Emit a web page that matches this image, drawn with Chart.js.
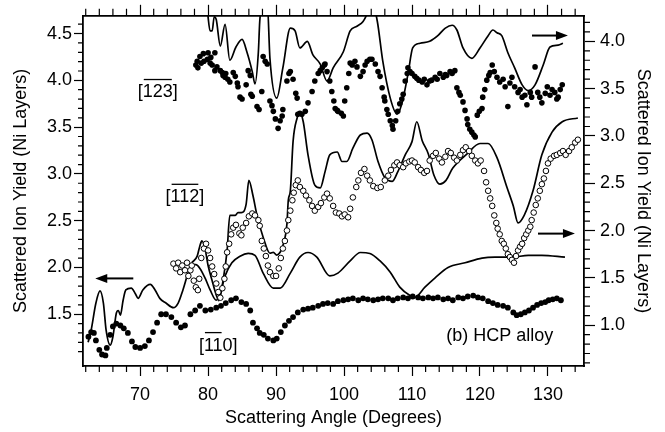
<!DOCTYPE html>
<html>
<head>
<meta charset="utf-8">
<script src="https://cdn.jsdelivr.net/npm/chart.js@4.4.1/dist/chart.umd.min.js"></script>
<style>
  html, body { margin: 0; padding: 0; background: #fff; }
</style>
</head>
<body>
<canvas id="chart" width="665" height="432"></canvas>
<script>
// ---- values ----
// [-1-10] simulation (left axis)
const ang110Sim = [62.35,62.8,63.5,64.1,64.6,65.0,65.6,66.0,66.5,66.8,67.1,67.5,67.9,68.7,69.3,69.7,70.4,71.5,72.2,72.9,73.8,74.9,75.6,76.3,77.1,77.6,78.2,78.8,79.6,80.3,81.2,81.8,82.5,83.5,84.7,85.9,86.9,88.1,89.6,90.6,92.1,93.5,94.7,96.0,97.9,99.1,100.9,102.4,103.8,105.3,106.8,108.2,109.7,110.4,111.9,113.4,115.3,117.8,120.3,122.2,124.7,127.1,129.1,132.5];
const val110Sim = [1.20,1.33,1.62,1.75,1.62,1.33,1.17,1.26,1.51,1.54,1.49,1.65,1.76,1.78,1.72,1.67,1.76,1.82,1.76,1.67,1.62,1.57,1.62,1.76,1.95,2.03,2.03,1.99,1.88,1.76,1.65,1.73,1.91,2.05,2.12,2.15,2.13,1.94,1.78,1.78,1.94,2.11,2.16,2.11,1.91,1.94,2.07,2.16,2.15,2.07,1.95,1.79,1.70,1.68,1.79,1.89,2.00,2.05,2.10,2.11,2.11,2.13,2.13,2.11];

// [-1-12] simulation (right axis)
const ang112Sim = [77.6,78.4,78.8,79.1,79.6,80.0,80.6,81.2,81.6,82.2,82.8,83.2,84.0,84.4,84.9,85.6,86.0,86.6,87.2,88.1,89.1,89.6,90.1,90.6,91.0,91.6,91.8,92.1,92.5,93.1,93.5,94.0,94.7,95.7,96.5,97.2,97.9,99.0,99.7,100.4,101.3,102.4,103.4,104.1,105.0,106.0,107.1,107.9,109.0,110.0,110.7,111.5,112.4,113.2,114.1,115.0,116.0,118.1,120.0,121.2,122.5,124.0,124.9,125.6,126.5,127.8,129.1,130.6,132.1,134.4];
const val112Sim = [1.66,1.73,1.84,1.89,1.79,1.63,1.47,1.32,1.26,1.47,1.79,2.16,2.16,2.19,2.19,2.28,2.53,2.37,2.16,1.93,1.76,1.77,1.74,1.77,1.84,2.07,2.32,2.42,2.94,3.19,3.25,3.15,2.80,2.48,2.45,2.62,2.80,2.83,2.73,2.73,2.87,3.01,3.03,2.96,2.73,2.56,2.52,2.62,2.80,2.94,3.15,2.95,2.81,2.59,2.49,2.53,2.66,2.81,2.92,2.92,2.77,2.45,2.26,2.08,2.16,2.42,2.80,3.04,3.15,3.19];

// [-1-23] simulation (right axis)
const ang123Sim = [79.9,80.3,80.6,80.9,81.2,81.8,82.5,83.2,84.1,85.0,85.7,86.5,86.9,87.4,87.6,88.1,88.7,89.1,90.1,91.0,92.1,92.8,93.5,94.6,95.4,96.5,97.5,98.4,99.9,100.9,101.9,102.8,103.4,104.1,104.9,105.7,106.8,107.8,108.5,109.4,110.1,111.2,112.6,113.8,114.9,115.9,116.6,117.5,118.8,120.0,121.2,121.9,122.5,123.2,124.1,125.1,126.2,127.1,128.1,129.3,130.3,131.5,132.2];
const val123Sim = [4.32,4.11,4.11,4.26,4.23,3.95,4.18,3.80,3.94,4.02,3.89,3.68,3.55,3.89,4.21,4.42,4.42,3.82,3.40,3.72,4.14,4.11,3.93,4.00,3.86,3.76,3.58,3.72,3.89,4.11,4.16,4.21,4.29,4.42,4.21,3.79,3.40,3.23,3.34,3.65,3.93,3.98,4.00,4.06,4.14,4.17,4.12,3.93,3.82,3.93,4.06,4.12,4.09,4.06,3.88,3.72,3.54,3.48,3.54,3.75,3.94,3.96,3.98];

// measured points
const ang110Exp = [62.4,62.8,63.2,63.5,64.0,64.4,64.9,65.1,65.6,66.0,66.5,67.1,67.6,68.2,68.8,69.3,70.0,70.7,71.3,71.9,72.5,73.1,73.8,74.6,75.3,76.0,76.6,77.4,78.1,78.8,79.6,80.4,81.2,81.9,82.6,83.4,84.1,84.9,85.6,86.2,86.6,87.2,87.6,88.2,88.8,89.6,90.1,90.7,91.3,91.9,92.5,93.2,94.0,94.7,95.4,96.2,96.9,97.6,98.4,99.1,99.9,100.6,101.3,102.1,102.8,103.5,104.3,105.0,105.7,106.5,107.2,107.9,108.7,109.4,110.1,110.9,111.6,112.4,113.1,113.8,114.6,115.3,116.0,116.8,117.5,118.2,119.0,119.7,120.4,121.2,121.9,122.6,123.4,124.1,124.9,125.4,126.0,126.6,127.2,127.8,128.4,129.0,129.6,130.1,130.7,131.3,131.9];
const val110Exp = [1.26,1.31,1.30,1.22,1.12,1.07,1.06,1.14,1.28,1.37,1.40,1.38,1.35,1.30,1.21,1.15,1.14,1.16,1.22,1.31,1.41,1.50,1.50,1.47,1.41,1.36,1.38,1.50,1.54,1.59,1.54,1.55,1.57,1.59,1.62,1.65,1.67,1.63,1.61,1.54,1.41,1.35,1.30,1.28,1.24,1.22,1.24,1.31,1.38,1.43,1.47,1.52,1.55,1.56,1.57,1.59,1.61,1.62,1.61,1.64,1.65,1.66,1.67,1.65,1.67,1.66,1.65,1.66,1.67,1.67,1.65,1.67,1.68,1.67,1.69,1.68,1.67,1.68,1.67,1.68,1.66,1.67,1.65,1.68,1.67,1.69,1.70,1.68,1.67,1.64,1.62,1.60,1.59,1.57,1.52,1.49,1.50,1.52,1.54,1.57,1.60,1.62,1.63,1.65,1.66,1.67,1.65];

const ang112Exp = [74.9,75.3,75.6,75.9,76.2,76.6,76.9,77.1,77.4,77.6,77.9,78.2,78.5,78.7,79.0,79.4,79.7,80.0,80.3,80.6,80.9,81.2,81.5,81.8,82.1,82.4,82.6,82.8,83.1,83.4,83.7,84.1,84.6,84.9,85.1,85.6,86.0,86.5,86.9,87.4,87.6,87.9,88.2,88.5,88.8,89.1,89.6,90.0,90.4,90.7,91.0,91.3,91.6,91.8,92.1,92.4,92.6,92.9,93.2,93.5,94.0,94.4,94.9,95.3,95.7,96.2,96.6,97.1,97.5,97.9,98.4,98.8,99.3,99.7,100.1,100.6,100.9,101.3,101.8,102.1,102.5,103.0,103.4,103.8,104.3,104.9,105.4,106.0,106.5,106.9,107.4,107.8,108.2,108.7,109.1,109.6,110.0,110.4,110.9,111.3,111.8,112.2,112.6,113.1,113.5,114.0,114.4,114.9,115.3,115.7,116.2,116.6,117.1,117.5,117.9,118.4,118.8,119.3,119.7,120.1,120.6,120.9,121.2,121.5,121.8,122.1,122.4,122.6,122.9,123.2,123.5,123.8,124.1,124.4,124.7,125.0,125.3,125.6,125.9,126.2,126.5,126.8,127.1,127.4,127.6,127.9,128.2,128.5,128.8,129.1,129.4,129.7,130.0,130.4,130.9,131.3,131.8,132.2,132.6,133.1,133.5,134.0,134.4];
const val112Exp = [1.65,1.60,1.66,1.56,1.63,1.58,1.66,1.52,1.58,1.63,1.47,1.40,1.37,1.49,1.71,1.81,1.86,1.79,1.71,1.62,1.54,1.44,1.35,1.29,1.39,1.49,1.62,1.77,1.86,1.96,2.03,2.06,1.97,1.95,2.03,2.08,2.15,2.18,2.16,2.11,2.05,1.89,1.81,1.73,1.63,1.56,1.52,1.52,1.60,1.71,1.81,1.89,2.00,2.11,2.21,2.32,2.40,2.48,2.53,2.46,2.42,2.37,2.32,2.26,2.21,2.25,2.29,2.35,2.39,2.34,2.26,2.19,2.18,2.15,2.17,2.14,2.23,2.35,2.46,2.53,2.61,2.65,2.58,2.53,2.47,2.45,2.46,2.53,2.58,2.64,2.69,2.72,2.69,2.67,2.71,2.73,2.74,2.72,2.67,2.64,2.61,2.63,2.74,2.79,2.82,2.76,2.72,2.78,2.84,2.82,2.77,2.74,2.80,2.85,2.88,2.84,2.79,2.74,2.71,2.74,2.63,2.51,2.42,2.34,2.26,2.16,2.08,2.02,1.96,1.89,1.86,1.81,1.75,1.72,1.69,1.66,1.73,1.79,1.83,1.86,1.92,1.96,2.00,2.04,2.11,2.19,2.27,2.34,2.42,2.49,2.55,2.63,2.71,2.76,2.79,2.80,2.82,2.84,2.80,2.84,2.88,2.93,2.96];

const ang123Exp = [78.2,78.4,78.5,78.8,79.0,79.3,79.4,79.9,80.0,80.3,80.4,80.6,81.0,81.0,81.3,81.8,82.1,82.2,82.5,82.6,82.9,83.2,83.7,84.0,84.3,84.4,84.7,85.0,85.6,85.9,86.2,86.3,86.5,87.2,87.5,87.9,88.1,88.4,88.7,89.1,89.4,89.6,89.9,90.3,90.6,90.9,91.0,91.6,91.9,92.1,92.5,92.9,93.1,93.2,93.5,93.8,94.3,94.7,95.3,95.7,96.2,96.5,96.8,97.1,97.2,97.5,97.9,98.2,98.5,98.7,99.0,99.1,99.6,99.9,100.1,100.4,100.7,100.9,101.2,101.6,101.9,102.4,102.8,103.1,103.4,103.8,104.1,104.6,105.0,105.3,105.6,105.9,106.0,106.3,106.5,106.8,107.1,107.2,107.6,107.9,108.2,108.5,108.7,109.0,109.3,109.4,109.7,110.0,110.4,110.7,111.0,111.5,111.8,112.2,112.6,112.9,113.4,113.7,114.1,114.6,114.9,115.1,115.6,115.9,116.3,116.6,116.9,117.1,117.5,117.8,118.1,118.2,118.5,118.8,119.1,119.3,119.6,119.9,120.3,120.4,120.7,121.0,121.3,121.5,121.8,122.1,122.5,122.9,123.4,123.7,124.1,124.4,124.7,125.1,125.6,125.9,126.2,126.6,126.9,127.4,127.6,128.1,128.5,128.8,129.1,129.6,129.9,130.3,130.6,131.0,131.3,131.5,131.8,132.1];
const val123Exp = [3.75,3.79,3.72,3.84,3.77,3.87,3.79,3.81,3.88,3.77,3.83,3.75,3.88,3.69,3.73,3.69,3.67,3.64,3.62,3.66,3.60,3.57,3.67,3.63,3.56,3.52,3.41,3.39,3.54,3.69,3.64,3.44,3.42,3.31,3.28,3.47,3.84,3.79,3.76,3.37,3.32,3.26,3.18,3.08,3.16,3.21,3.28,3.58,3.66,3.68,3.60,3.45,3.40,3.23,3.24,3.23,3.26,3.35,3.47,3.58,3.66,3.69,3.72,3.75,3.76,3.68,3.58,3.47,3.37,3.29,3.27,3.26,3.24,3.21,3.37,3.51,3.66,3.77,3.75,3.79,3.73,3.63,3.68,3.75,3.79,3.81,3.81,3.76,3.68,3.63,3.51,3.41,3.37,3.28,3.23,3.16,3.11,3.07,3.16,3.26,3.34,3.39,3.44,3.58,3.66,3.72,3.68,3.66,3.63,3.61,3.59,3.57,3.60,3.54,3.58,3.59,3.62,3.60,3.66,3.62,3.65,3.64,3.68,3.66,3.69,3.51,3.46,3.43,3.36,3.27,3.18,3.12,3.07,3.04,3.01,2.99,3.22,3.26,3.29,3.41,3.49,3.59,3.64,3.67,3.75,3.68,3.62,3.57,3.60,3.52,3.31,3.56,3.62,3.52,3.46,3.49,3.41,3.43,3.33,3.46,3.41,3.73,3.46,3.41,3.35,3.45,3.52,3.43,3.49,3.46,3.39,3.41,3.49,3.54];

// axis ranges (degrees, left axis, right axis)
const angRange = [61.6, 135.3];
const leftRange = [0.947, 4.69];
const rightRange = [0.568, 4.27];
const leftLowest = 1.05; // left axis shows no tick below 1.1

// text labels placed in data units (angle, left-axis value)
const labels = [
  { text: '[123]', bar: '123', x: 72.6, y: 3.87 },
  { text: '[112]', bar: '112', x: 76.6, y: 2.75 },
  { text: '[110]', bar: '11', x: 81.5, y: 1.165 },
  { text: '(b) HCP alloy', bar: '', x: 122.9, y: 1.266 }
];
// arrows: from tail to head (angle), at a left-axis value
const arrows = [
  { from: 69.0, to: 63.4, y: 1.883 },
  { from: 127.65, to: 132.94, y: 4.479 },
  { from: 128.53, to: 133.97, y: 2.362 }
];

const FONT = "'Liberation Sans', Arial, Helvetica, sans-serif";
Chart.defaults.font.family = FONT;
Chart.defaults.font.size = 18;
Chart.defaults.color = '#000';

const pts = (xs, ys) => xs.map((x, i) => ({ x, y: ys[i] }));
const isMajorX = v => Math.abs(v / 10 - Math.round(v / 10)) < 1e-6;
const isMajorY = v => Math.abs(v * 2 - Math.round(v * 2)) < 1e-6;

const lineSet = (data, axis) => ({
  data, yAxisID: axis, showLine: true, pointRadius: 0,
  borderColor: '#000', borderWidth: 1.7,
  cubicInterpolationMode: 'monotone', order: 3
});

// minor ticks, text labels and arrows
const decor = {
  id: 'decor',
  afterDraw(chart) {
    const ctx = chart.ctx;
    const { x, xTop, y, y2 } = chart.scales;
    ctx.save();
    ctx.strokeStyle = '#000';
    ctx.lineWidth = 1.2;
    ctx.beginPath();
    x.ticks.forEach(t => {
      if (isMajorX(t.value)) return;
      const px = x.getPixelForValue(t.value);
      ctx.moveTo(px, x.top); ctx.lineTo(px, x.top + 6);
      ctx.moveTo(px, xTop.bottom); ctx.lineTo(px, xTop.bottom - 7);
    });
    y.ticks.forEach(t => {
      if (isMajorY(t.value) || t.value < leftLowest) return;
      const py = y.getPixelForValue(t.value);
      ctx.moveTo(y.right, py); ctx.lineTo(y.right - 5, py);
    });
    y2.ticks.forEach(t => {
      if (isMajorY(t.value)) return;
      const py = y2.getPixelForValue(t.value);
      ctx.moveTo(y2.left, py); ctx.lineTo(y2.left + 6, py);
    });
    ctx.stroke();

    // labels
    ctx.font = '18px ' + FONT;
    ctx.fillStyle = '#000';
    ctx.textBaseline = 'middle';
    ctx.textAlign = 'left';
    labels.forEach(l => {
      const cx = x.getPixelForValue(l.x);
      const cy = y.getPixelForValue(l.y);
      const w = ctx.measureText(l.text).width;
      const x0 = cx - w / 2;
      ctx.fillText(l.text, x0, cy);
      if (l.bar) {
        const wo = ctx.measureText('[').width;
        const wb = ctx.measureText(l.bar).width;
        ctx.beginPath();
        ctx.lineWidth = 1.3;
        ctx.moveTo(x0 + wo + 1, cy - 13);
        ctx.lineTo(x0 + wo + wb - 1, cy - 13);
        ctx.stroke();
      }
    });

    // arrows
    arrows.forEach(a => {
      const x1 = x.getPixelForValue(a.from);
      const x2 = x.getPixelForValue(a.to);
      const py = y.getPixelForValue(a.y);
      const dir = Math.sign(x2 - x1);
      ctx.beginPath();
      ctx.lineWidth = 2;
      ctx.moveTo(x1, py);
      ctx.lineTo(x2 - dir * 8, py);
      ctx.stroke();
      ctx.beginPath();
      ctx.moveTo(x2, py);
      ctx.lineTo(x2 - dir * 12, py - 4.5);
      ctx.lineTo(x2 - dir * 12, py + 4.5);
      ctx.closePath();
      ctx.fill();
    });
    ctx.restore();
  }
};

const tickColX = c => (c.tick && isMajorX(c.tick.value)) ? '#000' : 'rgba(0,0,0,0)';
const tickColY = c => (c.tick && isMajorY(c.tick.value)) ? '#000' : 'rgba(0,0,0,0)';
const tickColL = c => (c.tick && isMajorY(c.tick.value) && c.tick.value > leftLowest) ? '#000' : 'rgba(0,0,0,0)';
const border = { display: true, color: '#000', width: 1.8 };

new Chart(document.getElementById('chart'), {
  type: 'scatter',
  data: {
    datasets: [
      { data: pts(ang112Exp, val112Exp), yAxisID: 'y2', pointRadius: 2.8,
        backgroundColor: '#fff', borderColor: '#000', borderWidth: 1, order: 0 },
      { data: pts(ang123Exp, val123Exp), yAxisID: 'y2', pointRadius: 2.8,
        backgroundColor: '#000', borderWidth: 0, order: 1 },
      { data: pts(ang110Exp, val110Exp), yAxisID: 'y', pointRadius: 2.9,
        backgroundColor: '#000', borderWidth: 0, order: 1 },
      lineSet(pts(ang110Sim, val110Sim), 'y'),
      lineSet(pts(ang112Sim, val112Sim), 'y2'),
      lineSet(pts(ang123Sim, val123Sim), 'y2')
    ]
  },
  options: {
    responsive: false,
    animation: false,
    events: [],
    layout: { padding: 0 },
    plugins: { legend: { display: false }, tooltip: { enabled: false } },
    scales: {
      x: {
        type: 'linear', position: 'bottom', min: angRange[0], max: angRange[1],
        afterFit: s => { s.height = 66; },
        ticks: { stepSize: 2, includeBounds: false, autoSkip: false, maxRotation: 0,
                 padding: 8, callback: v => isMajorX(v) ? String(Math.round(v)) : '' },
        grid: { drawOnChartArea: false, tickLength: 10, tickWidth: 1.2, tickColor: tickColX },
        border,
        title: { display: true, text: 'Scattering Angle (Degrees)', padding: { top: 0, bottom: 3 } }
      },
      xTop: {
        type: 'linear', position: 'top', min: angRange[0], max: angRange[1],
        afterFit: s => { s.height = 14; },
        ticks: { stepSize: 2, includeBounds: false, autoSkip: false, display: false },
        grid: { drawOnChartArea: false, tickLength: 11, tickWidth: 1.2, tickColor: tickColX },
        border
      },
      y: {
        type: 'linear', position: 'left', min: leftRange[0], max: leftRange[1],
        afterFit: s => { s.width = 83; },
        ticks: { stepSize: 0.1, includeBounds: false, autoSkip: false, padding: 2,
                 callback: v => (isMajorY(v) && v > leftLowest) ? v.toFixed(1) : '' },
        grid: { drawOnChartArea: false, tickLength: 9, tickWidth: 1.2, tickColor: tickColL },
        border,
        title: { display: true, text: 'Scattered Ion Yield (Ni Layers)', padding: { top: 10 } }
      },
      y2: {
        type: 'linear', position: 'right', min: rightRange[0], max: rightRange[1],
        afterFit: s => { s.width = 81; },
        ticks: { stepSize: 0.1, includeBounds: false, autoSkip: false, padding: 5,
                 callback: v => isMajorY(v) ? v.toFixed(1) : '' },
        grid: { drawOnChartArea: false, tickLength: 11, tickWidth: 1.2, tickColor: tickColY },
        border,
        title: { display: true, text: 'Scattered Ion Yield (Ni Layers)', padding: { top: 11 } }
      }
    }
  },
  plugins: [decor]
});
</script>
</body>
</html>
